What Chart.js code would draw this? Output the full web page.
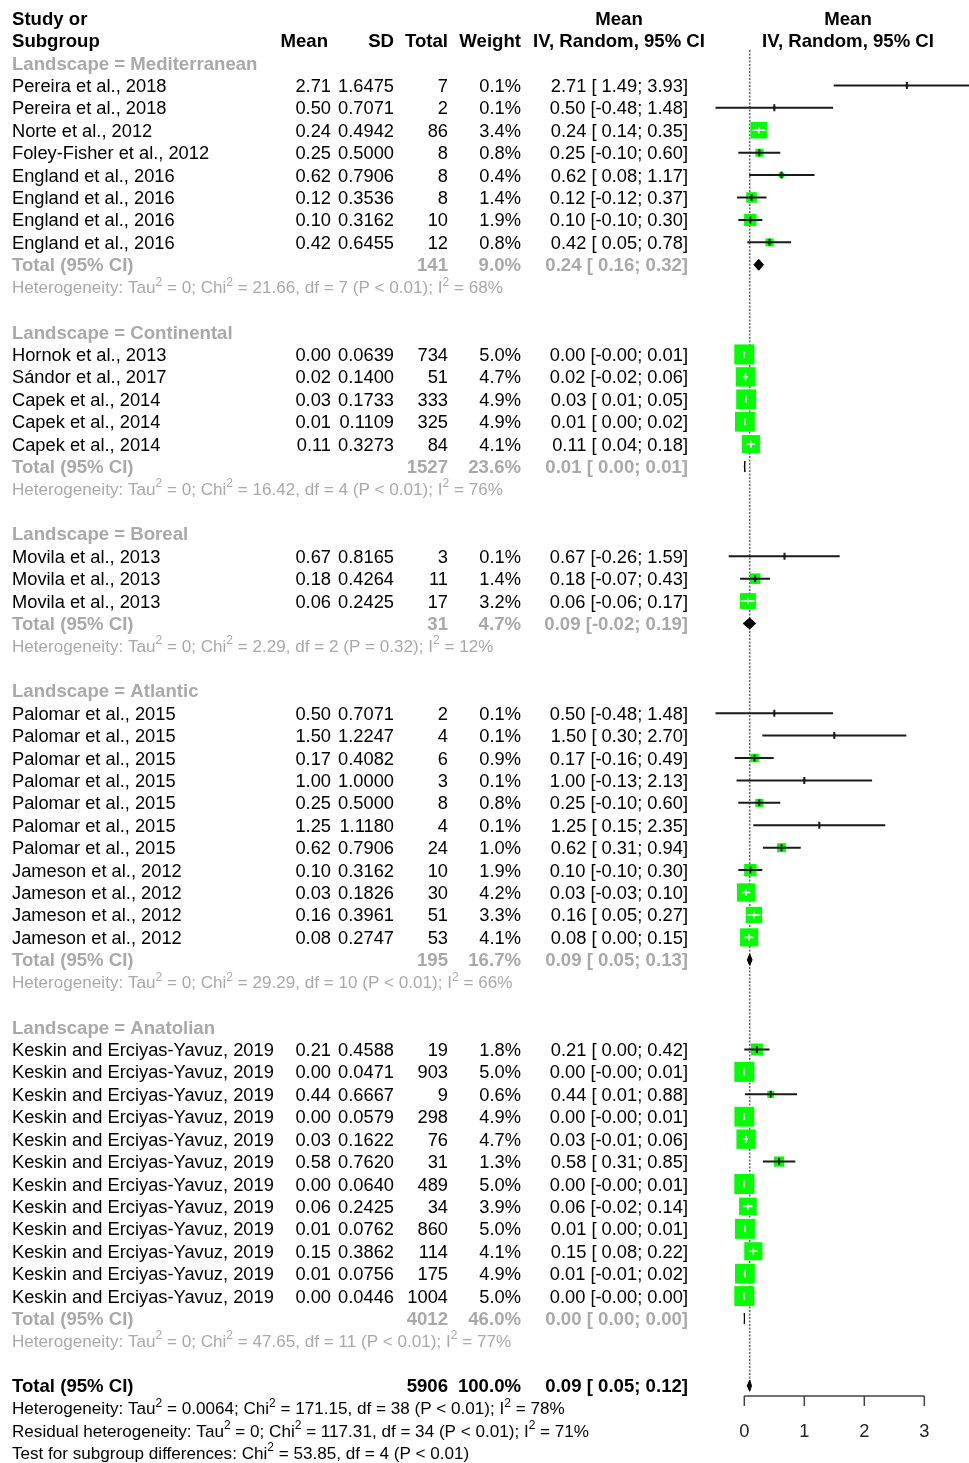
<!DOCTYPE html>
<html><head><meta charset="utf-8">
<script src="https://cdn.jsdelivr.net/npm/chart.js@4/dist/chart.umd.min.js"></script>
<style>html,body{margin:0;padding:0;background:#fff}canvas{display:block}</style>
</head><body>
<canvas id="c" width="969" height="1463"></canvas>
<script>
// ---------------- DATA ----------------
const groupNames = ['Mediterranean', 'Continental', 'Boreal', 'Atlantic', 'Anatolian'];
const groupSizes = [8, 5, 3, 11, 12];
const studies = [
  'Pereira et al., 2018', 'Pereira et al., 2018', 'Norte et al., 2012', 'Foley-Fisher et al., 2012',
  'England et al., 2016', 'England et al., 2016', 'England et al., 2016', 'England et al., 2016',
  'Hornok et al., 2013', 'Sándor et al., 2017', 'Capek et al., 2014', 'Capek et al., 2014', 'Capek et al., 2014',
  'Movila et al., 2013', 'Movila et al., 2013', 'Movila et al., 2013',
  'Palomar et al., 2015', 'Palomar et al., 2015', 'Palomar et al., 2015', 'Palomar et al., 2015',
  'Palomar et al., 2015', 'Palomar et al., 2015', 'Palomar et al., 2015',
  'Jameson et al., 2012', 'Jameson et al., 2012', 'Jameson et al., 2012', 'Jameson et al., 2012',
  'Keskin and Erciyas-Yavuz, 2019', 'Keskin and Erciyas-Yavuz, 2019', 'Keskin and Erciyas-Yavuz, 2019',
  'Keskin and Erciyas-Yavuz, 2019', 'Keskin and Erciyas-Yavuz, 2019', 'Keskin and Erciyas-Yavuz, 2019',
  'Keskin and Erciyas-Yavuz, 2019', 'Keskin and Erciyas-Yavuz, 2019', 'Keskin and Erciyas-Yavuz, 2019',
  'Keskin and Erciyas-Yavuz, 2019', 'Keskin and Erciyas-Yavuz, 2019', 'Keskin and Erciyas-Yavuz, 2019'
];
const means = [2.71, 0.50, 0.24, 0.25, 0.62, 0.12, 0.10, 0.42,
  0.00, 0.02, 0.03, 0.01, 0.11,
  0.67, 0.18, 0.06,
  0.50, 1.50, 0.17, 1.00, 0.25, 1.25, 0.62, 0.10, 0.03, 0.16, 0.08,
  0.21, 0.00, 0.44, 0.00, 0.03, 0.58, 0.00, 0.06, 0.01, 0.15, 0.01, 0.00];
const sds = [1.6475, 0.7071, 0.4942, 0.5000, 0.7906, 0.3536, 0.3162, 0.6455,
  0.0639, 0.1400, 0.1733, 0.1109, 0.3273,
  0.8165, 0.4264, 0.2425,
  0.7071, 1.2247, 0.4082, 1.0000, 0.5000, 1.1180, 0.7906, 0.3162, 0.1826, 0.3961, 0.2747,
  0.4588, 0.0471, 0.6667, 0.0579, 0.1622, 0.7620, 0.0640, 0.2425, 0.0762, 0.3862, 0.0756, 0.0446];
const totals = [7, 2, 86, 8, 8, 8, 10, 12,
  734, 51, 333, 325, 84,
  3, 11, 17,
  2, 4, 6, 3, 8, 4, 24, 10, 30, 51, 53,
  19, 903, 9, 298, 76, 31, 489, 34, 860, 114, 175, 1004];
const weights = [0.1, 0.1, 3.4, 0.8, 0.4, 1.4, 1.9, 0.8,
  5.0, 4.7, 4.9, 4.9, 4.1,
  0.1, 1.4, 3.2,
  0.1, 0.1, 0.9, 0.1, 0.8, 0.1, 1.0, 1.9, 4.2, 3.3, 4.1,
  1.8, 5.0, 0.6, 4.9, 4.7, 1.3, 5.0, 3.9, 5.0, 4.1, 4.9, 5.0];
const ciLow = [1.49, -0.48, 0.14, -0.10, 0.08, -0.12, -0.10, 0.05,
  -0.004, -0.02, 0.01, 0.00, 0.04,
  -0.26, -0.07, -0.06,
  -0.48, 0.30, -0.16, -0.13, -0.10, 0.15, 0.31, -0.10, -0.03, 0.05, 0.00,
  0.00, -0.004, 0.01, -0.004, -0.01, 0.31, -0.004, -0.02, 0.00, 0.08, -0.01, -0.004];
const ciHigh = [3.93, 1.48, 0.35, 0.60, 1.17, 0.37, 0.30, 0.78,
  0.01, 0.06, 0.05, 0.02, 0.18,
  1.59, 0.43, 0.17,
  1.48, 2.70, 0.49, 2.13, 0.60, 2.35, 0.94, 0.30, 0.10, 0.27, 0.15,
  0.42, 0.01, 0.88, 0.01, 0.06, 0.85, 0.01, 0.14, 0.01, 0.22, 0.02, 0.004];

const subTotalN = [141, 1527, 31, 195, 4012];
const subWeight = [9.0, 23.6, 4.7, 16.7, 46.0];
const subMean = [0.24, 0.01, 0.09, 0.09, 0.00];
const subLow = [0.16, 0.00, -0.02, 0.05, 0.00];
const subHigh = [0.32, 0.01, 0.19, 0.13, 0.004];
const subTau2 = ['0', '0', '0', '0', '0'];
const subChi2 = ['21.66', '16.42', '2.29', '29.29', '47.65'];
const subDf = [7, 4, 2, 10, 11];
const subP = ['P < 0.01', 'P < 0.01', 'P = 0.32', 'P < 0.01', 'P < 0.01'];
const subI2 = [68, 76, 12, 66, 77];

const overallN = 5906, overallWeight = 100.0, overallMean = 0.09, overallLow = 0.05, overallHigh = 0.12;
const xTicks = [0, 1, 2, 3];

// ---------------- LAYOUT ----------------
const FONT = 'Arial, "Liberation Sans", sans-serif';
const GRAY = '#a9a9a9';
const REG = 18.3, BOLD = 18.6, HET = 17.1;
const TY = 1.5; // text vertical nudge
const BOX_MAX = 20; // px side for 5.0% weight
const boxSide = w => BOX_MAX * Math.sqrt(w / 5.0);

// build row assignments
const studyRow = [], groupRow = [], subTotalRow = [], hetRow = [];
let r = 0;
groupSizes.forEach((n) => {
  groupRow.push(r); r++;
  for (let j = 0; j < n; j++) { studyRow.push(r); r++; }
  subTotalRow.push(r); r++;
  hetRow.push(r); r++;
  r++; // blank
});
const overallRow = r;

const fmt2 = v => v.toFixed(2);
const fmtLow = v => { const s = v.toFixed(2); return s[0] === '-' ? s : ' ' + s; };
const ciText = (m, lo, hi) => fmt2(m) + ' [' + fmtLow(lo) + '; ' + fmt2(hi) + ']';

function drawRich(ctx, segs, x, y, size, bold, color) {
  ctx.fillStyle = color;
  ctx.textAlign = 'left';
  ctx.textBaseline = 'middle';
  let cx = x;
  y += TY;
  segs.forEach(s => {
    if (typeof s === 'string') {
      ctx.font = (bold ? 'bold ' : '') + size + 'px ' + FONT;
      ctx.fillText(s, cx, y);
      cx += ctx.measureText(s).width;
    } else {
      const ss = Math.round(size * 0.68);
      ctx.font = (bold ? 'bold ' : '') + ss + 'px ' + FONT;
      ctx.fillText(s.sup, cx, y - size * 0.38);
      cx += ctx.measureText(s.sup).width;
    }
  });
}
function txt(ctx, s, x, y, align, bold, color) {
  ctx.font = (bold ? 'bold ' + BOLD : REG) + 'px ' + FONT;
  ctx.fillStyle = color || '#000';
  ctx.textAlign = align;
  ctx.textBaseline = 'middle';
  ctx.fillText(s, x, y + TY);
}

const COL = { study: 12, mean: 331, meanHead: 328, sd: 394, total: 448, weight: 521, ci: 688, ciHead: 619, plotHead: 848 };

const forestPlugin = {
  id: 'forest',
  beforeDatasetsDraw(chart) {
    const { ctx, chartArea, scales: { x } } = chart;
    ctx.save();
    ctx.strokeStyle = '#6a6a6a';
    ctx.lineWidth = 1.6;
    ctx.setLineDash([2, 1.5]);
    const px = x.getPixelForValue(overallMean);
    ctx.beginPath();
    ctx.moveTo(px, chartArea.top);
    ctx.lineTo(px, chartArea.bottom - 6);
    ctx.stroke();
    ctx.restore();
  },
  afterDatasetsDraw(chart) {
    const { ctx, chartArea, scales: { x, y } } = chart;
    ctx.save();
    ctx.beginPath();
    ctx.rect(chartArea.left, chartArea.top, chartArea.right - chartArea.left, chartArea.bottom - chartArea.top);
    ctx.clip();
    // confidence intervals
    means.forEach((m, i) => {
      const yy = y.getPixelForValue(studyRow[i]);
      const xl = x.getPixelForValue(ciLow[i]), xh = x.getPixelForValue(ciHigh[i]), xc = x.getPixelForValue(m);
      const s = boxSide(weights[i]);
      const inside = xl >= xc - s / 2 && xh <= xc + s / 2;
      ctx.strokeStyle = inside ? '#ffffff' : '#1a1a1a';
      ctx.lineWidth = inside ? 1.6 : 2;
      ctx.beginPath();
      ctx.moveTo(xl, yy); ctx.lineTo(xh, yy);
      ctx.moveTo(xc, yy - 3.5); ctx.lineTo(xc, yy + 3.5);
      ctx.stroke();
    });
    // diamonds
    const diamond = (m, lo, hi, row) => {
      const yy = y.getPixelForValue(row);
      const xl = x.getPixelForValue(lo), xh = x.getPixelForValue(hi), xc = x.getPixelForValue(m);
      ctx.fillStyle = '#000'; ctx.strokeStyle = '#000'; ctx.lineWidth = 1;
      ctx.beginPath();
      ctx.moveTo(xl, yy); ctx.lineTo(xc, yy - 5.5); ctx.lineTo(xh, yy); ctx.lineTo(xc, yy + 5.5);
      ctx.closePath(); ctx.fill(); ctx.stroke();
    };
    subMean.forEach((m, g) => diamond(m, subLow[g], subHigh[g], subTotalRow[g]));
    diamond(overallMean, overallLow, overallHigh, overallRow);
    ctx.restore();
  },
  afterDraw(chart) {
    const { ctx, chartArea, scales: { x, y } } = chart;
    const Y = row => y.getPixelForValue(row);
    ctx.save();
    // header
    txt(ctx, 'Study or', COL.study, Y(-2), 'left', true);
    txt(ctx, 'Subgroup', COL.study, Y(-1), 'left', true);
    txt(ctx, 'Mean', COL.meanHead, Y(-1), 'right', true);
    txt(ctx, 'SD', COL.sd, Y(-1), 'right', true);
    txt(ctx, 'Total', COL.total, Y(-1), 'right', true);
    txt(ctx, 'Weight', COL.weight, Y(-1), 'right', true);
    txt(ctx, 'Mean', COL.ciHead, Y(-2), 'center', true);
    txt(ctx, 'IV, Random, 95% CI', COL.ciHead, Y(-1), 'center', true);
    txt(ctx, 'Mean', COL.plotHead, Y(-2), 'center', true);
    txt(ctx, 'IV, Random, 95% CI', COL.plotHead, Y(-1), 'center', true);
    // groups
    groupNames.forEach((gn, g) => {
      txt(ctx, 'Landscape = ' + gn, COL.study, Y(groupRow[g]), 'left', true, GRAY);
      const ty = Y(subTotalRow[g]);
      txt(ctx, 'Total (95% CI)', COL.study, ty, 'left', true, GRAY);
      txt(ctx, String(subTotalN[g]), COL.total, ty, 'right', true, GRAY);
      txt(ctx, subWeight[g].toFixed(1) + '%', COL.weight, ty, 'right', true, GRAY);
      txt(ctx, ciText(subMean[g], subLow[g], subHigh[g]), COL.ci, ty, 'right', true, GRAY);
      drawRich(ctx, ['Heterogeneity: Tau', { sup: '2' }, ' = ' + subTau2[g] + '; Chi', { sup: '2' },
        ' = ' + subChi2[g] + ', df = ' + subDf[g] + ' (' + subP[g] + '); I', { sup: '2' }, ' = ' + subI2[g] + '%'],
        COL.study, Y(hetRow[g]), HET, false, GRAY);
    });
    // studies
    studies.forEach((s, i) => {
      const yy = Y(studyRow[i]);
      txt(ctx, s, COL.study, yy, 'left', false);
      txt(ctx, fmt2(means[i]), COL.mean, yy, 'right', false);
      txt(ctx, sds[i].toFixed(4), COL.sd, yy, 'right', false);
      txt(ctx, String(totals[i]), COL.total, yy, 'right', false);
      txt(ctx, weights[i].toFixed(1) + '%', COL.weight, yy, 'right', false);
      txt(ctx, ciText(means[i], ciLow[i], ciHigh[i]), COL.ci, yy, 'right', false);
    });
    // overall
    const oy = Y(overallRow);
    txt(ctx, 'Total (95% CI)', COL.study, oy, 'left', true);
    txt(ctx, String(overallN), COL.total, oy, 'right', true);
    txt(ctx, overallWeight.toFixed(1) + '%', COL.weight, oy, 'right', true);
    txt(ctx, ciText(overallMean, overallLow, overallHigh), COL.ci, oy, 'right', true);
    drawRich(ctx, ['Heterogeneity: Tau', { sup: '2' }, ' = 0.0064; Chi', { sup: '2' }, ' = 171.15, df = 38 (P < 0.01); I', { sup: '2' }, ' = 78%'],
      COL.study, Y(overallRow + 1), HET, false, '#000');
    drawRich(ctx, ['Residual heterogeneity: Tau', { sup: '2' }, ' = 0; Chi', { sup: '2' }, ' = 117.31, df = 34 (P < 0.01); I', { sup: '2' }, ' = 71%'],
      COL.study, Y(overallRow + 2), HET, false, '#000');
    drawRich(ctx, ['Test for subgroup differences: Chi', { sup: '2' }, ' = 53.85, df = 4 (P < 0.01)'],
      COL.study, Y(overallRow + 3), HET, false, '#000');
    // x axis
    const ay = chartArea.bottom;
    ctx.strokeStyle = '#444'; ctx.lineWidth = 1.5; ctx.setLineDash([]);
    ctx.beginPath();
    ctx.moveTo(x.getPixelForValue(xTicks[0]), ay);
    ctx.lineTo(x.getPixelForValue(xTicks[xTicks.length - 1]), ay);
    xTicks.forEach(t => { const px = x.getPixelForValue(t); ctx.moveTo(px, ay); ctx.lineTo(px, ay + 10); });
    ctx.stroke();
    xTicks.forEach(t => txt(ctx, String(t), x.getPixelForValue(t), ay + 34, 'center', false, '#222'));
    ctx.restore();
  }
};

// pixel geometry -> scale limits
const PLOT_LEFT = 700, PLOT_RIGHT = 969, ZERO_PX = 744.3, PX_PER_UNIT = 60;
const ROW0_PX = 63, ROW_PX = 22.42, TOP_PX = 50, BOTTOM_PX = 1396;

new Chart(document.getElementById('c'), {
  type: 'scatter',
  data: {
    datasets: [{
      data: means.map((m, i) => ({ x: m, y: studyRow[i] })),
      pointStyle: 'rect',
      pointRadius: weights.map(w => boxSide(w) / Math.SQRT2),
      pointHoverRadius: weights.map(w => boxSide(w) / Math.SQRT2),
      backgroundColor: '#00ff00',
      borderWidth: 0,
      hoverBorderWidth: 0
    }]
  },
  options: {
    responsive: false,
    devicePixelRatio: 1,
    animation: false,
    events: [],
    layout: { autoPadding: false, padding: { left: PLOT_LEFT, right: 969 - PLOT_RIGHT, top: TOP_PX, bottom: 1463 - BOTTOM_PX } },
    plugins: { legend: { display: false }, tooltip: { enabled: false } },
    scales: {
      x: { type: 'linear', display: false,
        min: (PLOT_LEFT - ZERO_PX) / PX_PER_UNIT, max: (PLOT_RIGHT - ZERO_PX) / PX_PER_UNIT },
      y: { type: 'linear', display: false, reverse: true,
        min: (TOP_PX - ROW0_PX) / ROW_PX, max: (BOTTOM_PX - ROW0_PX) / ROW_PX }
    }
  },
  plugins: [forestPlugin]
});
</script>
</body></html>
